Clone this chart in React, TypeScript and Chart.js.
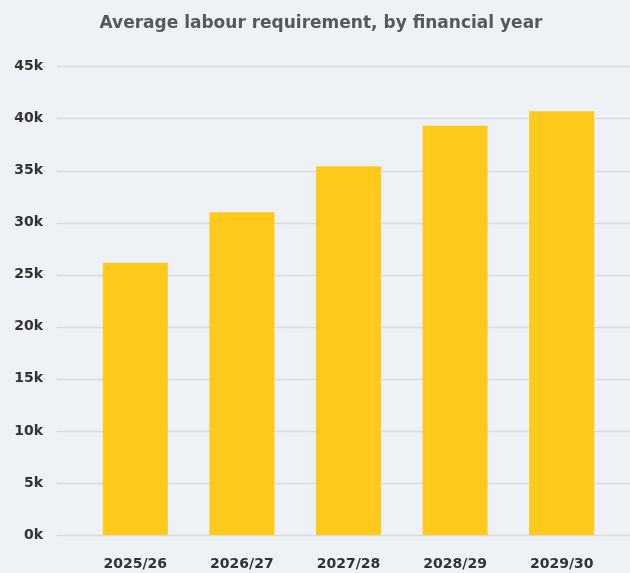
import React, { useEffect, useRef } from "react";
import { Chart, registerables } from "chart.js";

Chart.register(...registerables);

const categories = ["2025/26", "2026/27", "2027/28", "2028/29", "2029/30"];
const labourValues = [26150, 31000, 35400, 39300, 40700];
const yTickMax = 45000;
const yTickStep = 5000;
const titleText = "Average labour requirement, by financial year";

const FONT = "'DejaVu Sans', sans-serif";

const gridPlugin = {
  id: "fullGrid",
  beforeDatasetsDraw(chart: any) {
    const { ctx, scales } = chart;
    const y = scales.y;
    ctx.save();
    ctx.strokeStyle = "#d8dbe0";
    ctx.lineWidth = 1.5;
    y.ticks.forEach((t: any) => {
      const py = Math.round(y.getPixelForValue(t.value)) + 0.5;
      ctx.beginPath();
      ctx.moveTo(57, py);
      ctx.lineTo(chart.width, py);
      ctx.stroke();
    });
    ctx.restore();
  },
};

export default function App() {
  const ref = useRef<HTMLCanvasElement | null>(null);
  useEffect(() => {
    if (!ref.current) return;
    const chart = new Chart(ref.current, {
      type: "bar",
      data: {
        labels: categories,
        datasets: [
          {
            label: "Average labour requirement",
            data: labourValues,
            backgroundColor: "#ffca1c",
            borderWidth: 0,
            categoryPercentage: 1,
            barPercentage: 0.61,
            yAxisID: "y",
          },
        ],
      },
      options: {
        animation: false,
        responsive: false,
        layout: { padding: { left: 12, right: 0, top: 0, bottom: 0 } },
        plugins: {
          legend: { display: false },
          tooltip: { enabled: false },
          title: {
            display: true,
            text: titleText,
            color: "#55585d",
            font: { family: FONT, size: 17, weight: "bold" },
            padding: { top: 13, bottom: 33 },
          },
        },
        scales: {
          x: {
            grid: { display: false, drawTicks: true, tickLength: 21 },
            border: { display: false },
            ticks: {
              color: "#333333",
              font: { family: FONT, size: 14, weight: "bold" },
              padding: 0,
              maxRotation: 0,
            },
            afterFit(scale: any) {
              scale.height = 38;
            },
          },
          y: {
            min: 0,
            max: yTickMax,
            grid: { display: false, drawTicks: true, tickLength: 39 },
            border: { display: false },
            ticks: {
              stepSize: yTickStep,
              color: "#333333",
              font: { family: FONT, size: 14, weight: "bold" },
              padding: 0,
              callback: (v: any) => `${Number(v) / 1000}k`,
            },
            afterFit(scale: any) {
              scale.width = 70;
            },
          },
          yRight: {
            position: "right",
            min: 0,
            max: yTickMax,
            grid: { display: false, drawTicks: false },
            border: { display: false },
            ticks: { display: false },
            afterFit(scale: any) {
              scale.width = 15;
            },
          },
        },
      },
      plugins: [gridPlugin],
    });
    return () => chart.destroy();
  }, []);

  return (
    <div
      style={{
        position: "fixed",
        left: 0,
        top: 0,
        width: 630,
        height: 573,
        background: "#eef1f5",
      }}
    >
      <canvas ref={ref} width={630} height={573} style={{ display: "block" }} />
    </div>
  );
}
